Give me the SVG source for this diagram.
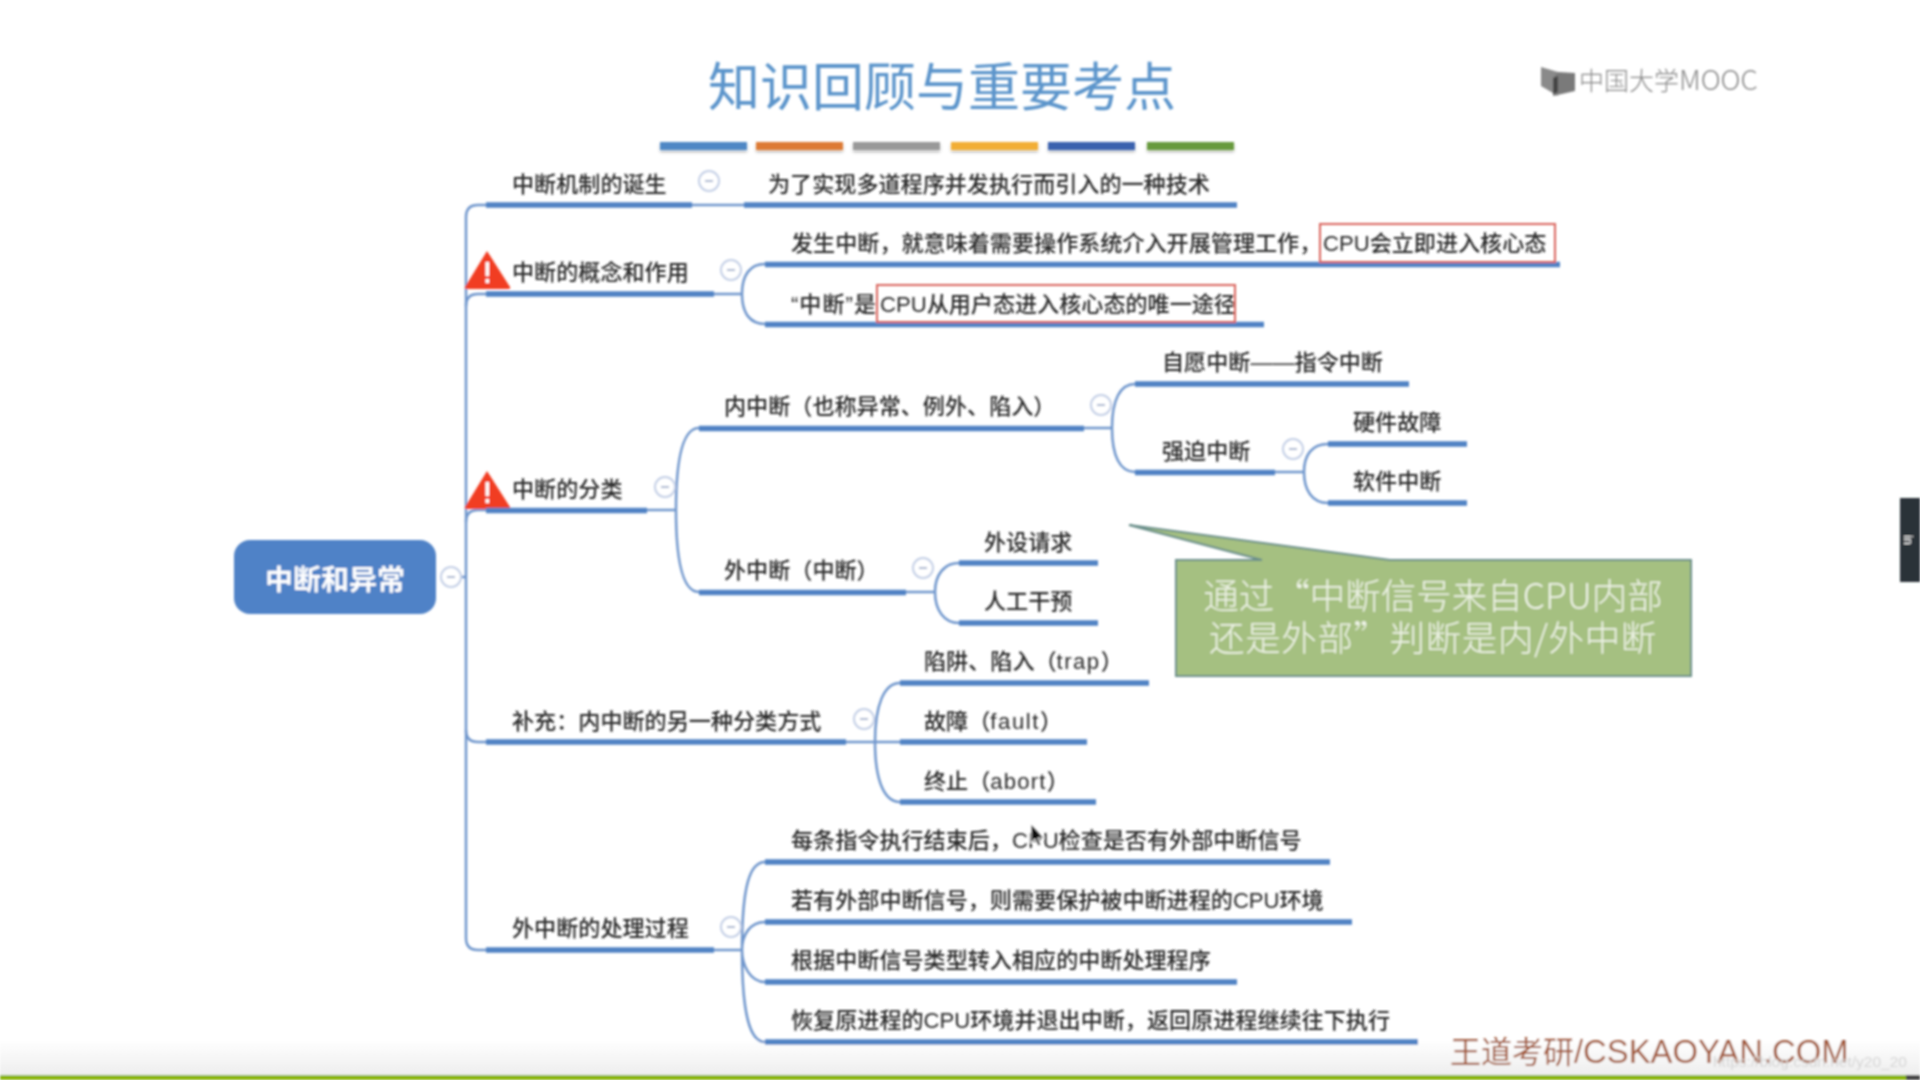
<svg xmlns="http://www.w3.org/2000/svg" width="1920" height="1080" viewBox="0 0 1920 1080">
<style>
.t{font-family:"Liberation Sans","Noto Sans CJK SC",sans-serif;font-size:22.1px;fill:#2a2a2a;font-weight:500}
.u{stroke:#4f82c4;stroke-width:5.500;fill:none}
.c{stroke:#6f96cc;stroke-width:2.500;fill:none}
.box{fill:none;stroke:#d9645c;stroke-width:2}
.m{fill:#fff;stroke:#c3cfe6;stroke-width:2}
.mm{stroke:#a8b6d0;stroke-width:2}
.ct{font-family:"Noto Sans CJK SC",sans-serif;font-size:35.500px;font-weight:300;fill:#eef3e6;text-anchor:middle}
</style>
<defs>
<filter id="soft" x="-2%" y="-2%" width="104%" height="104%"><feGaussianBlur stdDeviation="0.8"/></filter>
<filter id="sh" x="-10%" y="-50%" width="120%" height="250%"><feDropShadow dx="0" dy="2" stdDeviation="1.5" flood-color="#000" flood-opacity="0.3"/></filter>
<linearGradient id="fade" x1="0" y1="0" x2="0" y2="1"><stop offset="0" stop-color="#fff"/><stop offset="1" stop-color="#eeeeee"/></linearGradient>
<g id="warn"><path d="M487,0 L510,36 Q511,38 508,38 L467,38 Q464,38 465,36 Z" fill="#f13c20"/><rect x="485.500" y="11" width="3.500" height="14" fill="#fff"/><rect x="485.500" y="28" width="3.500" height="4" fill="#fff"/></g>
<g id="minus"><circle r="10" class="m"/><path d="M-4,0H4" class="mm"/></g>
</defs>
<rect width="1920" height="1080" fill="#fff"/>
<g filter="url(#soft)">
<rect y="1040" width="1920" height="35" fill="url(#fade)"/>
<rect y="1075" width="1920" height="5" fill="#8ab50a"/>
<rect x="1906" y="1075" width="14" height="5" fill="#444"/>
<rect x="1900" y="498" width="20" height="84" fill="#2c3038"/>
<text transform="translate(1904,540) rotate(90)" font-family="Liberation Sans,sans-serif" font-size="12" fill="#fff" text-anchor="middle">in</text>

<text x="942" y="106" text-anchor="middle" font-family="Noto Sans CJK SC,sans-serif" font-size="52" fill="#5b94cb" font-weight="400">知识回顾与重要考点</text>
<g filter="url(#sh)">
<rect x="660" y="142" width="87" height="8" fill="#4f87c5"/>
<rect x="756" y="142" width="87" height="8" fill="#dd7a35"/>
<rect x="853" y="142" width="87" height="8" fill="#999999"/>
<rect x="951" y="142" width="87" height="8" fill="#f2ae34"/>
<rect x="1048" y="142" width="87" height="8" fill="#3b62ae"/>
<rect x="1147" y="142" width="87" height="8" fill="#679a3e"/>
</g>

<g id="logo">
<path d="M1541,67 L1558,72 V96 L1541,86 Z" fill="#8a8a8a"/>
<path d="M1558,72 L1575,73 V91 L1553,96 V78 Z" fill="#7a7a7a"/>
<path d="M1553,78 L1558,76 V92 L1553,94 Z" fill="#444"/>
<text x="1579" y="90" font-family="Noto Sans CJK SC,sans-serif" font-size="25" font-weight="300" fill="#888">中国大学<tspan font-size="27.500">MOOC</tspan></text>
</g>

<g id="connectors">
<path class="c" d="M446,577 H466"/>
<path class="c" d="M486,205 H478 Q466,205 466,217 V938 Q466,950 478,950 H486"/>
<path class="c" d="M486,294 H478 Q466,294 466,306"/>
<path class="c" d="M486,510 H478 Q466,510 466,522"/>
<path class="c" d="M486,742 H478 Q466,742 466,730"/>
<path class="c" d="M692,205 H744"/>
<path class="c" d="M714,294 H742 M765,264 C750,264 742,275 742,294 C742,313 750,324 765,324"/>
<path class="c" d="M647,510 H676 M699,428 C684,428 676,455 676,510 C676,565 684,592 699,592"/>
<path class="c" d="M1084,428 H1112 M1135,384 C1120,384 1112,400 1112,428 C1112,456 1120,472 1135,472"/>
<path class="c" d="M1275,472 H1304 M1328,444 C1312,444 1304,455 1304,472 C1304,490 1312,503 1328,503"/>
<path class="c" d="M906,592 H935 M959,563 C944,563 935,575 935,592 C935,610 944,623 959,623"/>
<path class="c" d="M846,742 H875 M900,683 C884,683 875,705 875,742 C875,780 884,802 900,802 M875,742 H900"/>
<path class="c" d="M714,950 H742 M765,862 C750,862 742,885 742,950 C742,1015 750,1042 765,1042 M765,922 C750,922 742,935 742,950 C742,965 750,982 765,982"/>
</g>

<g id="root"><rect x="234" y="540" width="202" height="74" rx="16" fill="#4f82c7"/><text x="335" y="590" text-anchor="middle" font-family="Noto Sans CJK SC,sans-serif" font-size="28" font-weight="700" fill="#fff">中断和异常</text><use href="#minus" x="451" y="577"/></g>

<g id="n1"><path class="u" d="M486,205H692"/><text class="t" x="512" y="192">中断机制的诞生</text><use href="#minus" x="709" y="181"/></g>
<g id="n1a"><path class="u" d="M744,205H1237"/><text class="t" x="768" y="192">为了实现多道程序并发执行而引入的一种技术</text></g>

<use href="#warn" x="0" y="251"/>
<g id="n2"><path class="u" d="M486,294H714"/><text class="t" x="512" y="280">中断的概念和作用</text><use href="#minus" x="731" y="270"/></g>
<g id="n2a"><path class="u" d="M765,264.500H1560"/><text class="t" x="791" y="251">发生中断，就意味着需要操作系统介入开展管理工作，</text><text class="t" x="1323" y="251">CPU会立即进入核心态</text><rect class="box" x="1320" y="224" width="235" height="38"/></g>
<g id="n2b"><path class="u" d="M765,324.500H1264"/><text class="t" x="791" y="312" letter-spacing="1">“中断”是</text><text class="t" x="880" y="312">CPU从用户态进入核心态的唯一途径</text><rect class="box" x="877" y="285" width="358" height="37"/></g>

<use href="#warn" x="0" y="471"/>
<g id="n3"><path class="u" d="M486,510.500H647"/><text class="t" x="512" y="497">中断的分类</text><use href="#minus" x="665" y="487"/></g>
<g id="n3a"><path class="u" d="M699,428.500H1084"/><text class="t" x="724" y="414">内中断（也称异常、例外、陷入）</text><use href="#minus" x="1101" y="405"/></g>
<g id="n3a1"><path class="u" d="M1135,384H1409"/><text class="t" x="1162" y="370">自愿中断——指令中断</text></g>
<g id="n3a2"><path class="u" d="M1135,472.500H1275"/><text class="t" x="1162" y="459">强迫中断</text><use href="#minus" x="1293" y="449"/></g>
<g id="n3a2a"><path class="u" d="M1328,444H1467"/><text class="t" x="1353" y="430">硬件故障</text></g>
<g id="n3a2b"><path class="u" d="M1328,503H1467"/><text class="t" x="1353" y="489">软件中断</text></g>
<g id="n3b"><path class="u" d="M699,592.500H906"/><text class="t" x="724" y="578">外中断（中断）</text><use href="#minus" x="923" y="568"/></g>
<g id="n3b1"><path class="u" d="M959,563H1098"/><text class="t" x="984" y="550">外设请求</text></g>
<g id="n3b2"><path class="u" d="M959,623H1098"/><text class="t" x="984" y="609">人工干预</text></g>

<g id="n4"><path class="u" d="M486,742H846"/><text class="t" x="512" y="729">补充：内中断的另一种分类方式</text><use href="#minus" x="864" y="719"/></g>
<g id="n4a"><path class="u" d="M900,683H1149"/><text class="t" x="924" y="669">陷阱、陷入（<tspan letter-spacing="1.500">trap</tspan>）</text></g>
<g id="n4b"><path class="u" d="M900,742H1087"/><text class="t" x="924" y="729">故障（<tspan letter-spacing="1.600">fault</tspan>）</text></g>
<g id="n4c"><path class="u" d="M900,802H1096"/><text class="t" x="924" y="789">终止（<tspan letter-spacing="1.200">abort</tspan>）</text></g>

<g id="n5"><path class="u" d="M486,950H714"/><text class="t" x="512" y="936">外中断的处理过程</text><use href="#minus" x="731" y="927"/></g>
<g id="n5a"><path class="u" d="M765,862H1330"/><text class="t" x="791" y="848">每条指令执行结束后，CPU检查是否有外部中断信号</text></g>
<g id="n5b"><path class="u" d="M765,922H1352"/><text class="t" x="791" y="908">若有外部中断信号，则需要保护被中断进程的CPU环境</text></g>
<g id="n5c"><path class="u" d="M765,982H1237"/><text class="t" x="791" y="968">根据中断信号类型转入相应的中断处理程序</text></g>
<g id="n5d"><path class="u" d="M765,1042H1418"/><text class="t" x="791" y="1028">恢复原进程的CPU环境并退出中断，返回原进程继续往下执行</text></g>

<g id="callout"><path d="M1176,560 H1262 L1129,525 L1390,560 H1691 V676 H1176 Z" fill="#a5c081" stroke="#6a8f8a" stroke-width="2"/>
<text class="ct" x="1433" y="609">通过“中断信号来自CPU内部</text>
<text class="ct" x="1433" y="651" letter-spacing="0.600">还是外部”判断是内/外中断</text></g>

<path d="M1031,824 V843 L1035,839 L1038,846 L1041,845 L1038,838 L1044,838 Z" fill="#111" stroke="#fff" stroke-width="1"/>

<text x="1450" y="1063" font-family="Liberation Sans,Noto Sans CJK SC,sans-serif" font-size="31" fill="#a35a3a">王道考研<tspan font-size="32.800">/CSKAOYAN.COM</tspan></text>
<text x="1713" y="1067" font-family="Liberation Sans,sans-serif" font-size="15.500" fill="#d4d4d4">https://blog.csdn.net/y20_20</text>
</g>
</svg>
